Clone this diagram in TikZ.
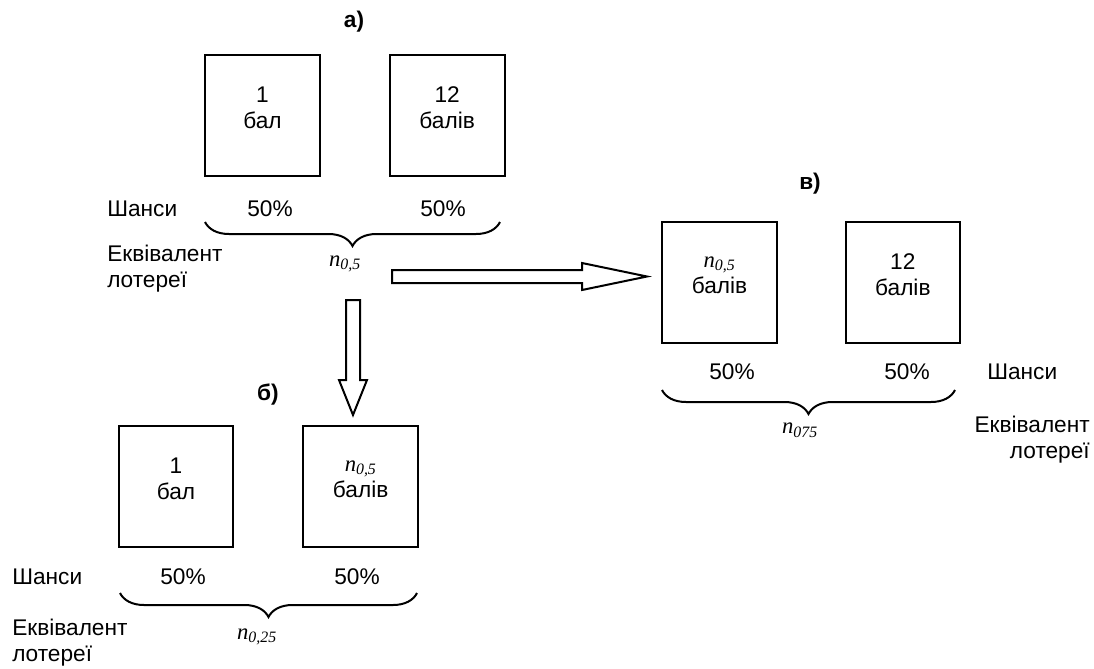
\documentclass[tikz,border=0pt]{standalone}
\usepackage{fontspec}
\setmainfont{Liberation Sans}
\newfontfamily\nfont{Liberation Serif}
\usetikzlibrary{positioning, decorations.pathreplacing}
\newcommand{\nval}[1]{{\nfont\itshape n\textsubscript{#1}}}
\tikzset{
  box/.style={draw, line width=1.5pt, minimum width=86pt, minimum height=91pt,
              align=center, inner sep=0pt},
  pct/.style={inner sep=0pt},
  caption/.style={font=\fontsize{17}{19}\selectfont\bfseries, inner sep=0pt},
  lbl/.style={align=left, inner sep=0pt},
  bracket/.style={decorate, decoration={brace, amplitude=18pt}, line width=1.5pt},
  hollow/.style={draw, line width=1.5pt, fill=white, line join=miter}
}

\begin{document}
\begin{tikzpicture}[x=0.75pt, y=-0.75pt, font=\fontsize{17}{19.5}\selectfont]
    \useasboundingbox (0,0) rectangle (1094,668);

    % lottery a
    \node[caption] (capa) at (354,22) {а)};
    \node[box] (a1) at (262.5,115.5) {1\\бал\\[-8pt]};
    \node[box, right=51pt of a1] (a2) {12\\балів\\[-8pt]};
    \node[pct, anchor=west] (sha) at (107,209) {Шанси};
    \node[pct] (pa1) at (270,209) {50\%};
    \node[pct] (pa2) at (443,209) {50\%};
    \coordinate (bra1) at (205,222);
    \coordinate (bra2) at (500,222);
    \draw[bracket] (bra2) -- (bra1);
    \node[pct] (na) at (345,264) {\nval{0,5}};
    \node[lbl, anchor=west] (eqa) at (107,269) {Еквівалент\\лотереї};

    % lottery b
    \node[caption] (capb) at (268,395) {б)};
    \node[box] (b1) at (176,486.5) {1\\бал\\[-8pt]};
    \node[box, right=51pt of b1] (b2) {\nval{0,5}\\балів\\[-8pt]};
    \node[pct, anchor=west] (shb) at (12,577) {Шанси};
    \node[pct] (pb1) at (183,577) {50\%};
    \node[pct] (pb2) at (357,577) {50\%};
    \coordinate (brb1) at (120,593);
    \coordinate (brb2) at (417,593);
    \draw[bracket] (brb2) -- (brb1);
    \node[pct] (nb) at (257,637) {\nval{0,25}};
    \node[lbl, anchor=west] (eqb) at (12,643) {Еквівалент\\лотереї};

    % lottery c
    \node[caption] (capc) at (810,184) {в)};
    \node[box] (c1) at (719.5,282.5) {\nval{0,5}\\балів\\[-8pt]};
    \node[box, right=50pt of c1] (c2) {12\\балів\\[-8pt]};
    \node[pct, anchor=west] (shc) at (987,372) {Шанси};
    \node[pct] (pc1) at (732,372) {50\%};
    \node[pct] (pc2) at (907,372) {50\%};
    \coordinate (brc1) at (662,390);
    \coordinate (brc2) at (955,390);
    \draw[bracket] (brc2) -- (brc1);
    \node[pct] (nc) at (800,430) {\nval{075}};
    \node[lbl, align=right, anchor=east] (eqc) at (1090,440) {Еквівалент\\лотереї};

    % block arrows
    \draw[hollow] (392,270) -- (582,270) -- (582,263) -- (647,276.5)
        -- (582,290) -- (582,283) -- (392,283) -- cycle;
    \draw[hollow] (346,300) -- (360,300) -- (360,380) -- (367,380)
        -- (353,415) -- (339,380) -- (346,380) -- cycle;
\end{tikzpicture}
\end{document}
